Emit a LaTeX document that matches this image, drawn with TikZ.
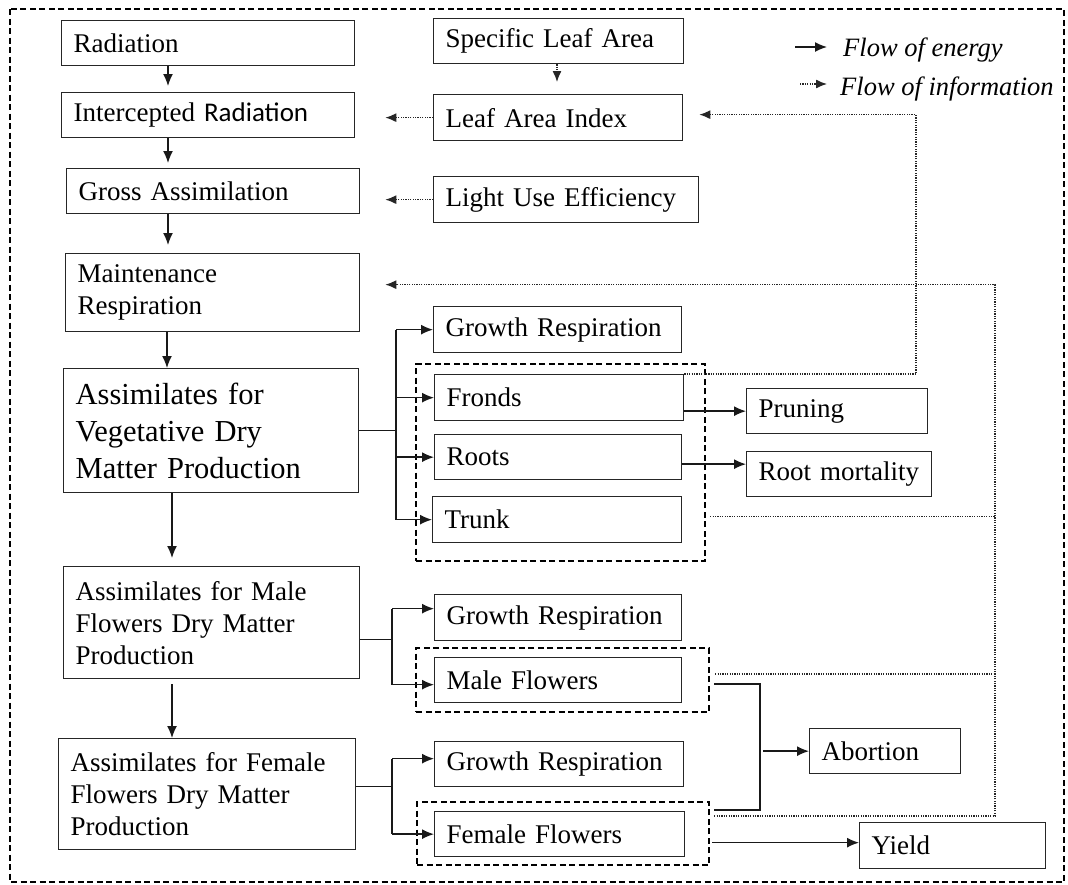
\documentclass[tikz,border=0pt]{standalone}
\usepackage{fontspec}
\setmainfont{Liberation Serif}
\newfontfamily\carl{Carlito}
\usetikzlibrary{arrows.meta}
\newcommand\fn{\fontsize{27}{32}\selectfont}
\newcommand\fv{\fontsize{30.5}{37}\selectfont}
\newcommand\fleg{\fontsize{26.5}{30}\selectfont\itshape}
\begin{document}
\begin{tikzpicture}[x=1pt,y=-1pt,
  box/.style={draw=black!85, line width=1.3pt, anchor=north west, inner xsep=12pt, inner ysep=0pt, align=left, font=\fn},
  grp/.style={draw, line width=2.2pt, dash pattern=on 6pt off 3.5pt, anchor=north west, inner sep=0pt},
  line/.style={draw=black!90, line width=1.4pt},
  flow/.style={line, -{Latex[length=12pt,width=10pt]}},
  info/.style={draw=black!85, line width=1.3pt, dash pattern=on 1.2pt off 1.2pt, -{Latex[length=11pt,width=9pt]}},
  infol/.style={draw=black!85, line width=1.3pt, dash pattern=on 1.2pt off 1.2pt}]
\useasboundingbox (0,0) rectangle (1068,884);
% outer frame
\draw[line width=2.2pt, dash pattern=on 6pt off 3.5pt] (10,9) rectangle (1064,882);

% left column
\node[box, minimum width=293pt, minimum height=45pt, text width=269pt] (rad) at (61,20) {Radiation};
\node[box, minimum width=293pt, minimum height=45pt, text width=269pt] (ir) at (61,92) {Intercepted {\carl Radiation}};
\node[box, minimum width=293pt, minimum height=45pt, text width=269pt] (ga) at (66,168) {Gross Assimilation};
\node[box, minimum width=294pt, minimum height=78pt, text width=270pt] (mr) at (65,253) {Maintenance\\Respiration};
\node[box, font=\fv, minimum width=295pt, minimum height=124pt, text width=271pt] (veg) at (63,368) {Assimilates for\\Vegetative Dry\\Matter Production};
\node[box, minimum width=296pt, minimum height=112pt, text width=272pt] (male) at (63,566) {Assimilates for Male\\Flowers Dry Matter\\Production};
\node[box, minimum width=297pt, minimum height=111pt, text width=273pt] (female) at (58,738) {Assimilates for Female\\Flowers Dry Matter\\Production};

% middle column
\node[box, minimum width=250pt, minimum height=45pt, text width=226pt] (sla) at (433,18) {Specific Leaf Area};
\node[box, minimum width=249pt, minimum height=46pt, text width=225pt] (lai) at (433,94) {Leaf Area Index};
\node[box, minimum width=265pt, minimum height=46pt, text width=241pt] (lue) at (433,176) {Light Use Efficiency};
\node[box, minimum width=248pt, minimum height=46pt, text width=224pt] (gr1) at (433,306) {Growth Respiration};
\node[box, minimum width=249pt, minimum height=46pt, text width=225pt] (fr) at (434,374) {Fronds};
\node[box, minimum width=247pt, minimum height=45pt, text width=223pt] (ro) at (434,434) {Roots};
\node[box, minimum width=249pt, minimum height=46pt, text width=225pt] (tr) at (432,496) {Trunk};
\node[box, minimum width=247pt, minimum height=46pt, text width=223pt] (gr2) at (434,594) {Growth Respiration};
\node[box, minimum width=247pt, minimum height=45pt, text width=223pt] (mf) at (434,657) {Male Flowers};
\node[box, minimum width=249pt, minimum height=45pt, text width=225pt] (gr3) at (434,741) {Growth Respiration};
\node[box, minimum width=250pt, minimum height=45pt, text width=226pt] (ff) at (434,811) {Female Flowers};

% groups
\node[grp, minimum width=289pt, minimum height=197pt] (vgrp) at (415,363) {};
\node[grp, minimum width=293pt, minimum height=64pt] (mgrp) at (415,647) {};
\node[grp, minimum width=292pt, minimum height=63pt] (fgrp) at (416,801) {};

% right column
\node[box, minimum width=181pt, minimum height=45pt, text width=157pt] (pr) at (746,388) {Pruning};
\node[box, minimum width=185pt, minimum height=45pt, text width=161pt] (rm) at (746,451) {Root mortality};
\node[box, minimum width=151pt, minimum height=45pt, text width=127pt] (ab) at (809,728) {Abortion};
\node[box, minimum width=186pt, minimum height=46pt, text width=162pt] (yi) at (859,822) {Yield};

% legend
\node[font=\fleg, anchor=base west, inner sep=0pt] (leg1) at (843,56) {Flow of energy};
\node[font=\fleg, anchor=base west, inner sep=0pt] (leg2) at (840,95) {Flow of information};
\coordinate (le1) at (795,47);
\coordinate (le2) at (827,47);
\coordinate (li1) at (800,84);
\coordinate (li2) at (827,84);
\draw[flow] (le1) -- (le2);
\draw[info] (li1) -- (li2);

% main vertical flow
\coordinate (xa) at (168,0);
\coordinate (xa2) at (167,0);
\coordinate (xb) at (172,0);
\draw[flow, shorten >=6pt] (rad.south -| xa) -- (ir.north -| xa);
\draw[flow, shorten >=5pt] (ir.south -| xa) -- (ga.north -| xa);
\draw[flow, shorten >=8pt] (ga.south -| xa) -- (mr.north -| xa);
\draw[flow] (mr.south -| xa2) -- (veg.north -| xa2);
\draw[flow, shorten >=8pt] (veg.south -| xb) -- (male.north -| xb);
\draw[flow, shorten <=5pt] (male.south -| xb) -- (female.north -| xb);

% information arrows
\coordinate (xc) at (557,0);
\draw[info, shorten >=12pt] (sla.south -| xc) -- (lai.north -| xc);
\draw[info, shorten >=30pt] (lai.west) -- (lai.west -| ir.east);
\draw[info, shorten >=25pt] (lue.west) -- (lue.west -| ga.east);
\coordinate (xr1) at (916,0);
\coordinate (laiin) at ([yshift=3pt]lai.east);
\draw[info, shorten >=16pt] (fr.north east) -- (fr.north east -| xr1) -- (laiin -| xr1) -- (laiin);
\coordinate (xr2) at (995,0);
\coordinate (mrin) at ([yshift=8pt]mr.east);
\coordinate (tr0) at ([yshift=3pt]tr.east);
\coordinate (m0) at ([yshift=6pt]mgrp.east);
\coordinate (f0) at ([yshift=17.5pt]fgrp.east);
\draw[info, shorten >=25pt, shorten <=4pt] (f0) -- (f0 -| xr2) -- (mrin -| xr2) -- (mrin);
\draw[infol, shorten <=4pt] (tr0 -| vgrp.east) -- (tr0 -| xr2);
\draw[infol, shorten <=5pt] (m0) -- (m0 -| xr2);

% vegetative branch
\coordinate (xv) at (396,0);
\draw[line] (veg.east) -- (veg.east -| xv);
\draw[line] (gr1.west -| xv) -- (tr.west -| xv);
\draw[flow] (gr1.west -| xv) -- (gr1.west);
\draw[flow] (fr.west -| xv) -- (fr.west);
\draw[flow] (ro.west -| xv) -- (ro.west);
\draw[flow] (tr.west -| xv) -- (tr.west);
\draw[flow] (pr.west -| fr.east) -- (pr.west);
\coordinate (rmin) at ([yshift=10pt]rm.west);
\draw[flow] (rmin -| ro.east) -- (rmin);

% male branch
\coordinate (xm) at (392,0);
\coordinate (m1) at ([yshift=-17pt]male.east);
\coordinate (g2in) at ([yshift=9pt]gr2.west);
\coordinate (mfin) at ([yshift=-4.5pt]mf.west);
\draw[line] (m1) -- (m1 -| xm);
\draw[line] (g2in -| xm) -- (mfin -| xm);
\draw[flow] (g2in -| xm) -- (g2in);
\draw[flow] (mfin -| xm) -- (mfin);

% female branch
\coordinate (f1) at ([yshift=7.5pt]female.east);
\coordinate (g3in) at ([yshift=5.5pt]gr3.west);
\draw[line] (f1) -- (f1 -| xm);
\draw[line] (g3in -| xm) -- (ff.west -| xm);
\draw[flow] (g3in -| xm) -- (g3in);
\draw[flow] (ff.west -| xm) -- (ff.west);

% abortion and yield
\coordinate (xab) at (760,0);
\coordinate (ab1) at ([xshift=4pt,yshift=-4pt]mgrp.east);
\coordinate (ab2) at ([xshift=4pt,yshift=23.5pt]fgrp.east);
\draw[line] (ab1) -- (ab1 -| xab) -- (ab2 -| xab) -- (ab2);
\draw[flow, shorten <=3pt] (ab.west -| xab) -- (ab.west);
\coordinate (yin) at ([yshift=3pt]yi.west);
\draw[flow, shorten <=2pt] (yin -| fgrp.east) -- (yin);
\end{tikzpicture}
\end{document}
